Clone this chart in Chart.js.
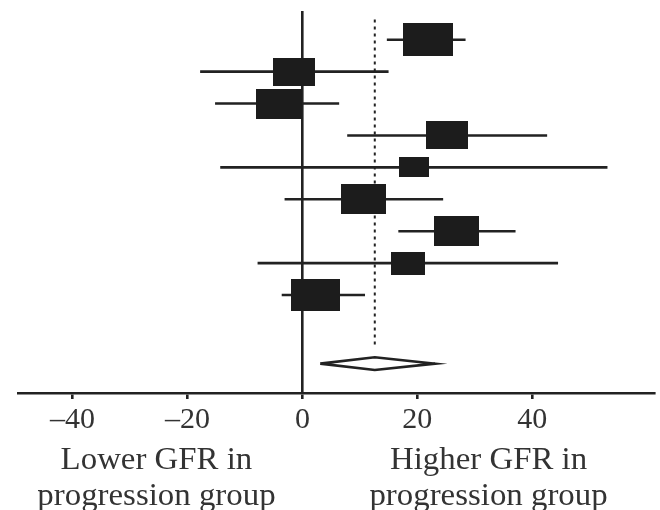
<!DOCTYPE html>
<html>
<head>
<meta charset="utf-8">
<script src="https://cdn.jsdelivr.net/npm/chart.js@4.4.0/dist/chart.umd.min.js"></script>
<style>
  html, body { margin: 0; padding: 0; background: #fff; }
  canvas { display: block; }
</style>
</head>
<body>
<canvas id="forest" width="660" height="510"></canvas>
<script>
// mean difference in GFR (progression - no progression), one entry per study
const studyRows = [1, 2, 3, 4, 5, 6, 7, 8, 9];
const meanDiff = [21.9, -1.5, -4.1, 25.2, 19.5, 10.6, 26.8, 18.4, 2.3];
const ciLower  = [14.7, -17.8, -15.2, 7.8, -14.3, -3.1, 16.7, -7.8, -3.6];
const ciUpper  = [28.4, 15.0, 6.4, 42.6, 53.1, 24.5, 37.1, 44.5, 10.9];
const weights  = [12.5, 10.5, 11.5, 10.5, 7.5, 11.2, 11.2, 8.5, 12.2];

const pooledMean = 12.6;
const pooledLower = 3.1;
const pooledUpper = 23.1;

const tickValues = [-40, -20, 0, 20, 40];
const lowerLabel = ['Lower GFR in', 'progression group'];
const higherLabel = ['Higher GFR in', 'progression group'];

const POOLED_ROW = 11.15;
const ink = '#222';
const serif = '"Liberation Serif", "Times New Roman", "DejaVu Serif", serif';

function boxImage(w) {
  const c = document.createElement('canvas');
  c.width = Math.round(w * 4);
  c.height = Math.round(w * 2.65);
  const g = c.getContext('2d');
  g.fillStyle = '#1c1c1c';
  g.fillRect(0, 0, c.width, c.height);
  return c;
}
const boxes = weights.map(boxImage);

// whiskers, null point between studies breaks the line
const ciPoints = [];
studyRows.forEach((r, i) => {
  ciPoints.push({x: ciLower[i], y: r}, {x: ciUpper[i], y: r}, {x: null, y: null});
});

const diamond = [
  {x: pooledLower, y: POOLED_ROW},
  {x: pooledMean, y: POOLED_ROW - 0.2},
  {x: pooledUpper, y: POOLED_ROW},
  {x: pooledMean, y: POOLED_ROW + 0.2},
  {x: pooledLower, y: POOLED_ROW}
];

const sideLabels = {
  id: 'sideLabels',
  afterDraw(chart) {
    const ctx = chart.ctx;
    const x = chart.scales.x;
    ctx.save();
    ctx.font = '31px ' + serif;
    ctx.fillStyle = '#333';
    ctx.textAlign = 'center';
    ctx.textBaseline = 'alphabetic';
    [[lowerLabel, -25.4], [higherLabel, 32.4]].forEach(([lines, v]) => {
      const cx = x.getPixelForValue(v);
      lines.forEach((t, k) => {
        ctx.save();
        ctx.translate(cx, 469 + k * 36);
        ctx.scale(1.06, 1);
        ctx.fillText(t, 0, 0);
        ctx.restore();
      });
    });
    ctx.restore();
  }
};

new Chart(document.getElementById('forest'), {
  type: 'scatter',
  data: {
    datasets: [
      {
        label: 'Studies',
        data: studyRows.map((r, i) => ({x: meanDiff[i], y: r})),
        pointStyle: c => boxes[c.dataIndex],
        pointRadius: 5,
        order: 0
      },
      {
        type: 'line',
        label: 'CI',
        data: ciPoints,
        borderColor: ink,
        borderWidth: 2.6,
        pointRadius: 0,
        spanGaps: false,
        order: 2
      },
      {
        type: 'line',
        label: 'Pooled',
        data: [{x: pooledMean, y: 0.37}, {x: pooledMean, y: 10.62}],
        borderColor: ink,
        borderWidth: 2,
        borderDash: [3, 4],
        pointRadius: 0,
        order: 3
      },
      {
        type: 'line',
        label: 'Overall',
        data: diamond,
        borderColor: ink,
        borderWidth: 2.6,
        borderJoinStyle: 'miter',
        fill: false,
        tension: 0,
        pointRadius: 0,
        order: 1
      }
    ]
  },
  options: {
    responsive: false,
    animation: false,
    layout: { padding: { left: 18, right: 0, top: 11, bottom: 0 } },
    plugins: { legend: { display: false }, tooltip: { enabled: false } },
    scales: {
      x: {
        type: 'linear',
        min: -49.5,
        max: 61.2,
        afterBuildTicks: s => { s.ticks = tickValues.map(v => ({value: v})); },
        afterFit: s => { s.height = 117; },
        border: { display: true, color: ink, width: 2.6 },
        grid: {
          color: c => (c.tick && c.tick.value === 0) ? ink : 'rgba(0,0,0,0)',
          lineWidth: 2.6,
          tickLength: 6,
          tickColor: ink
        },
        ticks: {
          font: { family: serif, size: 30 },
          color: '#333',
          padding: 3,
          maxRotation: 0,
          autoSkip: false,
          callback: v => v < 0 ? '\u2013' + Math.abs(v) : String(v)
        }
      },
      y: { type: 'linear', display: false, reverse: true, min: 0.1, max: 12.07 }
    }
  },
  plugins: [sideLabels]
});
</script>
</body>
</html>
